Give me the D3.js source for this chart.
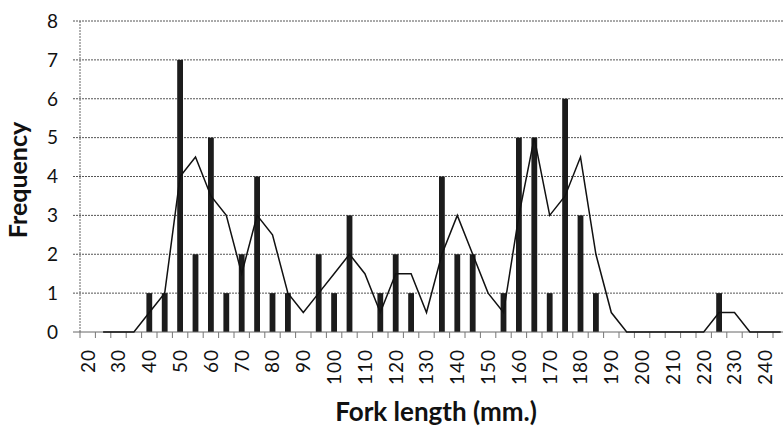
<!DOCTYPE html>
<html>
<head>
<meta charset="utf-8">
<script src="https://cdn.jsdelivr.net/npm/d3@7"></script>
<style>
  html, body { margin: 0; padding: 0; background: #fff; }
  svg { display: block; }
</style>
</head>
<body>
<svg id="chart" width="783" height="432"></svg>
<script>
// Fork length bins (mm), every 5 mm
const categories = [20,25,30,35,40,45,50,55,60,65,70,75,80,85,90,95,100,105,110,115,120,125,130,135,140,145,150,155,160,165,170,175,180,185,190,195,200,205,210,215,220,225,230,235,240,245];
// Frequency per bin
const frequency = [0,0,0,0,1,1,7,2,5,1,2,4,1,1,0,2,1,3,0,1,2,1,0,4,2,2,0,1,5,5,1,6,3,1,0,0,0,0,0,0,0,1,0,0,0,0];
// Trend line (2-period moving average); null = no point
const trend = [null,0,0,0,0.5,1,4,4.5,3.5,3,1.5,3,2.5,1,0.5,1,1.5,2,1.5,0.5,1.5,1.5,0.5,2,3,2,1,0.5,3,5,3,3.5,4.5,2,0.5,0,0,0,0,0,0,0.5,0.5,0,0,0];
// Axis tick labels
const yTicks = [0,1,2,3,4,5,6,7,8];
const xLabels = [20,30,40,50,60,70,80,90,100,110,120,130,140,150,160,170,180,190,200,210,220,230,240];

const svg = d3.select("#chart");
const font = "Lato, 'Open Sans', 'DejaVu Sans', sans-serif";

const plotLeft = 80, plotTop = 21, plotBottom = 332;
const bandW = 15.4;
const x = d3.scaleBand().domain(categories).range([plotLeft, plotLeft + bandW * categories.length]).padding(0);
const y = d3.scaleLinear().domain([0, 8]).range([plotBottom, plotTop]);

// gridlines
svg.append("g").selectAll("line").data(yTicks.filter(d => d > 0)).join("line")
  .attr("x1", plotLeft - 7).attr("x2", 783)
  .attr("y1", d => y(d)).attr("y2", d => y(d))
  .attr("stroke", "#555").attr("stroke-width", 1).attr("stroke-dasharray", "2,1");

// y axis line
svg.append("line").attr("x1", plotLeft).attr("x2", plotLeft).attr("y1", plotTop).attr("y2", plotBottom)
  .attr("stroke", "#666").attr("stroke-width", 1).attr("stroke-dasharray", "2,1");

// y tick labels
svg.append("g").selectAll("text").data(yTicks).join("text")
  .attr("x", 58).attr("y", d => y(d)).attr("dy", "0.36em")
  .attr("text-anchor", "end").attr("font-family", font).attr("font-size", 19).attr("fill", "#111")
  .text(d => d);

// bars
const bw = 5.8;
svg.append("g").selectAll("rect").data(categories.map((c, i) => ({c, v: frequency[i]})).filter(d => d.v > 0)).join("rect")
  .attr("x", d => x(d.c) + x.bandwidth() / 2 - bw / 2)
  .attr("width", bw)
  .attr("y", d => y(d.v))
  .attr("height", d => y(0) - y(d.v))
  .attr("fill", "#1c1c1c");

// x axis
svg.append("line").attr("x1", plotLeft - 7).attr("x2", 783).attr("y1", plotBottom).attr("y2", plotBottom)
  .attr("stroke", "#666").attr("stroke-width", 1);
svg.append("g").selectAll("line").data(categories).join("line")
  .attr("x1", d => x(d)).attr("x2", d => x(d))
  .attr("y1", plotBottom).attr("y2", plotBottom + 6)
  .attr("stroke", "#777").attr("stroke-width", 1);

// x tick labels (rotated)
svg.append("g").selectAll("text").data(xLabels).join("text")
  .attr("transform", d => `translate(${x(d) + x.bandwidth() / 2},349) rotate(-90)`)
  .attr("text-anchor", "end").attr("dy", "0.36em")
  .attr("font-family", font).attr("font-size", 19).attr("letter-spacing", 1).attr("fill", "#111")
  .text(d => d);

// trend line
const pts = categories.map((c, i) => ({c, v: trend[i]}));
svg.append("path").datum(pts)
  .attr("fill", "none").attr("stroke", "#111").attr("stroke-width", 1.5)
  .attr("d", d3.line().defined(d => d.v !== null)
    .x(d => x(d.c) + x.bandwidth() / 2).y(d => y(d.v)));

// axis titles
svg.append("text").attr("transform", `translate(27,180) rotate(-90)`)
  .attr("text-anchor", "middle").attr("font-family", font).attr("font-weight", "bold")
  .attr("font-size", 25).attr("fill", "#111").text("Frequency");
svg.append("text").attr("x", 436).attr("y", 421)
  .attr("text-anchor", "middle").attr("font-family", font).attr("font-weight", "bold")
  .attr("font-size", 26).attr("fill", "#111").text("Fork length (mm.)");
</script>
</body>
</html>
